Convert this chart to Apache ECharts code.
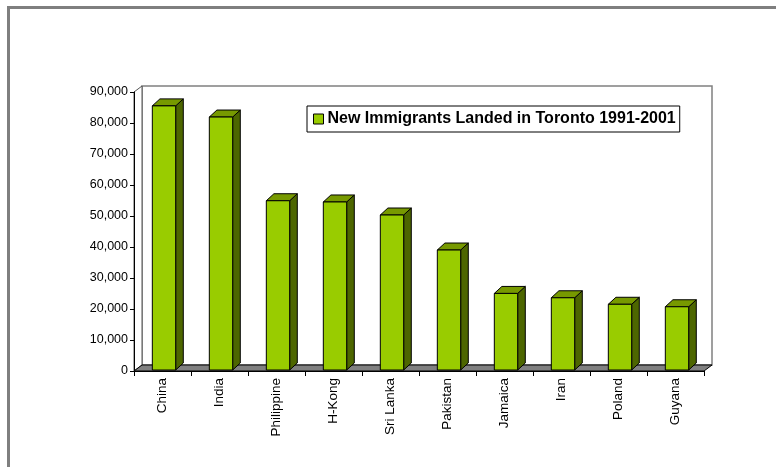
<!DOCTYPE html>
<html>
<head>
<meta charset="utf-8">
<script src="https://cdn.jsdelivr.net/npm/echarts@6/dist/echarts.min.js"></script>
<style>
html,body{margin:0;padding:0;background:#fff;}
#chart{width:776px;height:467px;}
</style>
</head>
<body>
<div id="chart"></div>
<script>
const categories = ['China','India','Philippine','H-Kong','Sri Lanka','Pakistan','Jamaica','Iran','Poland','Guyana'];
const values = [85200, 81600, 54600, 54200, 50000, 38700, 24700, 23300, 21200, 20400];
const seriesName = 'New Immigrants Landed in Toronto 1991-2001';
const yMin = 0, yMax = 90000, yInterval = 10000;

const FONT = "'Liberation Sans', Arial, sans-serif";
const FRONT = '#99CC00', TOP = '#779900', SIDE = '#4D6600';
const WDX = 8, WDY = -6;      // wall depth
const BDX = 7.6, BDY = -7;    // bar depth
const BOX = 1.5, BOY = -1;    // bar front offset

const chart = echarts.init(document.getElementById('chart'), null, {renderer:'canvas'});

const option = {
  animation: false,
  backgroundColor: '#fff',
  graphic: [{
    type: 'rect', silent: true, z: -10,
    shape: {x: 8.5, y: 7.5, width: 820, height: 520},
    style: {fill: 'none', stroke: '#7f7f7f', lineWidth: 3}
  }],
  legend: {
    left: 307, top: 106,
    padding: [5, 4, 5, 6],
    borderColor: '#000', borderWidth: 1,
    itemWidth: 10, itemHeight: 10,
    icon: 'rect',
    itemStyle: {borderColor: '#000', borderWidth: 1},
    textStyle: {fontFamily: FONT, fontWeight: 'bold', fontSize: 16, color: '#000', padding: [0,0,0,-1]},
    data: [{name: seriesName, icon: 'rect'}]
  },
  grid: {left: 134, right: 72, top: 92, bottom: 96, containLabel: false},
  xAxis: {
    type: 'category',
    data: categories,
    boundaryGap: true,
    axisLine: {show: true, lineStyle: {color: '#000', width: 1}},
    axisTick: {show: true, length: 5, alignWithLabel: false, interval: 0, lineStyle: {color: '#000'}},
    axisLabel: {interval: 0, rotate: 90, margin: 7, fontFamily: FONT, fontSize: 13.5, color: '#000'},
    splitLine: {show: false}
  },
  yAxis: {
    type: 'value',
    min: yMin, max: yMax, interval: yInterval,
    axisLine: {show: true, lineStyle: {color: '#000', width: 1}},
    axisTick: {show: true, length: 4, lineStyle: {color: '#000'}},
    axisLabel: {
      margin: 6, fontFamily: FONT, fontSize: 12.5, color: '#000',
      formatter: v => v.toLocaleString('en-US')
    },
    splitLine: {show: false}
  },
  series: [
    {
      type: 'custom',
      name: '__walls',
      z: -1,
      silent: true,
      data: [[0, 0]],
      renderItem: function (params, api) {
        const cs = params.coordSys;
        const L = cs.x, R = cs.x + cs.width, T = cs.y, B = cs.y + cs.height;
        return {
          type: 'group',
          children: [
            {type: 'polygon', shape: {points: [[L+WDX, T+WDY],[R+WDX, T+WDY],[R+WDX, B+WDY],[L+WDX, B+WDY]]},
             style: {fill: '#fff', stroke: '#808080', lineWidth: 1.5}},
            {type: 'polygon', shape: {points: [[L, T],[L+WDX, T+WDY],[L+WDX, B+WDY],[L, B]]},
             style: {fill: '#fff', stroke: '#555', lineWidth: 1}},
            {type: 'polygon', shape: {points: [[L, B],[R, B],[R+WDX, B+WDY],[L+WDX, B+WDY]]},
             style: {fill: '#808080', stroke: '#000', lineWidth: 1}}
          ]
        };
      }
    },
    {
      type: 'custom',
      name: seriesName,
      itemStyle: {color: FRONT, borderColor: '#000'},
      data: values.map((v, i) => [i, v]),
      encode: {x: 0, y: 1},
      renderItem: function (params, api) {
        const i = api.value(0), v = api.value(1);
        const base = api.coord([i, 0]);
        const top = api.coord([i, v]);
        const band = api.size([1, 0])[0];
        const w = band * 0.41;
        const x0 = base[0] - w / 2 + BOX, x1 = x0 + w;
        const yb = base[1] + BOY, yt = top[1] + BOY;
        const st = {stroke: '#000', lineWidth: 1, lineJoin: 'round'};
        return {
          type: 'group',
          children: [
            {type: 'polygon', shape: {points: [[x1, yt],[x1+BDX, yt+BDY],[x1+BDX, yb+BDY],[x1, yb]]},
             style: Object.assign({fill: SIDE}, st)},
            {type: 'polygon', shape: {points: [[x0, yt],[x0+BDX, yt+BDY],[x1+BDX, yt+BDY],[x1, yt]]},
             style: Object.assign({fill: TOP}, st)},
            {type: 'polygon', shape: {points: [[x0, yt],[x1, yt],[x1, yb],[x0, yb]]},
             style: Object.assign({fill: FRONT}, st)}
          ]
        };
      }
    }
  ]
};
chart.setOption(option);
</script>
</body>
</html>
